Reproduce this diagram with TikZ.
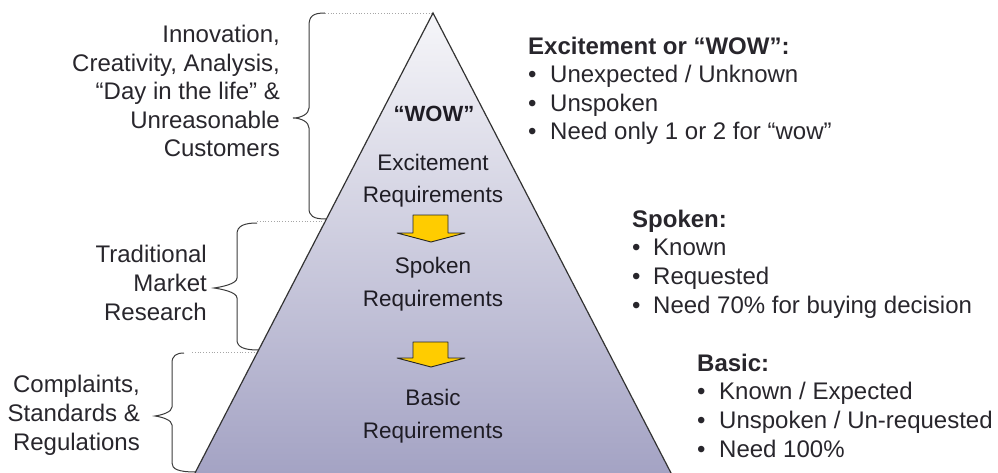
\documentclass[tikz,border=0pt]{standalone}
\usepackage{fontspec}
\setmainfont{Liberation Sans}
\begin{document}
\begin{tikzpicture}[x=1pt,y=-1pt,
  txt/.style={inner sep=0pt, text=textgray, font=\fontsize{24}{28.6}\selectfont},
  lefttxt/.style={txt, align=right, anchor=base east},
  pyrtxt/.style={inner sep=0pt, text=textdark, align=center, anchor=base,
    font=\fontsize{22.5}{32.5}\selectfont},
  listtxt/.style={txt, align=left, anchor=base west},
  brace/.style={draw=bracegray, line width=1pt},
  guide/.style={draw=gray!70, line width=0.8pt, dotted},
  downarrow/.style={fill=arrowyellow, draw=black!85, line width=0.9pt, line join=round},
]
\definecolor{textgray}{RGB}{40,38,44}
\definecolor{textdark}{RGB}{30,28,36}
\definecolor{bracegray}{RGB}{60,60,60}
\definecolor{arrowyellow}{RGB}{255,204,0}
\definecolor{pyrtop}{RGB}{246,246,249}
\definecolor{pyrbot}{RGB}{164,163,196}

\useasboundingbox (0,0) rectangle (998,473);

% pyramid corners
\coordinate (apex) at (433,13);
\coordinate (bl) at (195,473);
\coordinate (br) at (671,473);

% shaded pyramid
\shade[top color=pyrtop, bottom color=pyrbot] (apex) -- (br) -- (bl) -- cycle;
\draw[draw=black!80, line width=1.2pt, line join=miter] (bl) -- (apex) -- (br);

% dotted guides from the braces to the pyramid edge
\coordinate (g1a) at (325,13);
\coordinate (g2a) at (257,221);
\coordinate (g2b) at (325,221);
\coordinate (g3a) at (192,352);
\coordinate (g3b) at (257,352);
\draw[guide] (g1a) -- (apex);
\draw[guide] (g2a) -- (g2b);
\draw[guide] (g3a) -- (g3b);

% braces
\draw[brace] (325,13) .. controls (313,13) and (309,16) .. (309,26)
  -- (309,108) .. controls (309,114) and (301,118) .. (293,118)
  .. controls (301,118) and (309,122) .. (309,128)
  -- (309,208) .. controls (309,216) and (313,219) .. (326,219);
\draw[brace] (257,223) .. controls (244,223) and (237,226) .. (237,234)
  -- (237,278) .. controls (237,284) and (221,287) .. (214,288)
  .. controls (221,289) and (237,292) .. (237,298)
  -- (237,340) .. controls (237,347) and (244,350) .. (258,350);
\draw[brace] (184,353) .. controls (176,353) and (172,356) .. (172,363)
  -- (172,407) .. controls (172,412) and (162,415) .. (155,416)
  .. controls (162,417) and (172,420) .. (172,425)
  -- (172,463) .. controls (172,469) and (178,472) .. (196,472);

% yellow arrows between the levels
\draw[downarrow] (413,215) -- (448,215) -- (448,233) -- (465,233) -- (431,242)
  -- (397,233) -- (413,233) -- cycle;
\draw[downarrow] (413,342) -- (448,342) -- (448,358) -- (465,358) -- (431,367)
  -- (397,358) -- (413,358) -- cycle;

% text inside the pyramid (anchored on the baseline of the last line)
\node[pyrtxt, font=\bfseries\fontsize{22}{28}\selectfont] (wow) at (434,122) {“WOW”};
\node[pyrtxt] (exc) at (433,203) {Excitement\\Requirements};
\node[pyrtxt] (spo) at (433,306) {Spoken\\Requirements};
\node[pyrtxt] (bas) at (433,438) {Basic\\Requirements};

% sources on the left
\node[lefttxt] (src1) at (280,157) {Innovation,\\Creativity, Analysis,\\“Day in the life” \&\\Unreasonable\\Customers};
\node[lefttxt] (src2) at (207,320) {Traditional\\Market\\Research};
\node[lefttxt] (src3) at (140,450) {Complaints,\\Standards \&\\Regulations};

% descriptions on the right
\node[listtxt] (d1) at (528,140) {\textbf{Excitement or “WOW”:}\\
  \makebox[22pt][l]{•}Unexpected / Unknown\\
  \makebox[22pt][l]{•}Unspoken\\
  \makebox[22pt][l]{•}Need only 1 or 2 for “wow”};
\node[listtxt] (d2) at (632,313) {\textbf{Spoken:}\\
  \makebox[21pt][l]{•}Known\\
  \makebox[21pt][l]{•}Requested\\
  \makebox[21pt][l]{•}Need 70\% for buying decision};
\node[listtxt] (d3) at (697,457) {\textbf{Basic:}\\
  \makebox[22pt][l]{•}Known / Expected\\
  \makebox[22pt][l]{•}Unspoken / Un-requested\\
  \makebox[22pt][l]{•}Need 100\%};
\end{tikzpicture}
\end{document}
